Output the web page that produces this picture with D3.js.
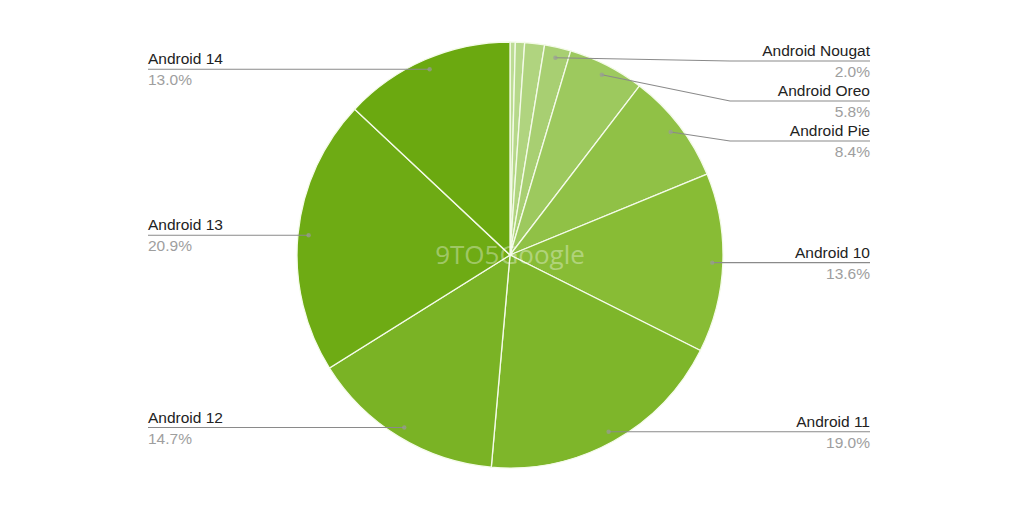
<!DOCTYPE html>
<html>
<head>
<meta charset="utf-8">
<script src="https://cdn.jsdelivr.net/npm/d3@7"></script>
<style>
  html, body { margin: 0; padding: 0; background: #fff; }
  svg { display: block; }
</style>
</head>
<body>
<div id="chart"></div>
<script>
// slices, clockwise from 12 o'clock
const versions = [
  "Android KitKat", "Android Lollipop", "Android Marshmallow",
  "Android Nougat", "Android Oreo", "Android Pie",
  "Android 10", "Android 11", "Android 12", "Android 13", "Android 14",
];
const shares = [0.4, 0.7, 1.5, 2.0, 5.8, 8.4, 13.6, 19.0, 14.7, 20.9, 13.0];
const shareLabels = ["0.4%", "0.7%", "1.5%", "2.0%", "5.8%", "8.4%", "13.6%", "19.0%", "14.7%", "20.9%", "13.0%"];
const sliceColors = [
  "#bcdc94", "#b6d88a", "#b0d47f", "#a8cf72", "#9dc95e", "#90c146",
  "#88bc35", "#7eb62a", "#7ab325", "#6eab14", "#6ba910",
];
// google charts hides labels for the tiny slices
const labelled = shares.map((v) => v >= 1.9);

const width = 1020, height = 509;
const cx = 510, cy = 255, R = 213;
const rightEdge = 870, leftEdge = 148;
const rightElbow = 730, leftElbow = 290;

const svg = d3.select("#chart").append("svg")
  .attr("width", width)
  .attr("height", height);

const data = versions.map((name, i) => ({ name, value: shares[i], label: shareLabels[i], color: sliceColors[i], show: labelled[i] }));

const pie = d3.pie().sort(null).value((d) => d.value).startAngle(0).endAngle(2 * Math.PI);
const arcs = pie(data);
const arc = d3.arc().innerRadius(0).outerRadius(R);

const g = svg.append("g").attr("transform", `translate(${cx},${cy})`);

g.selectAll("path.slice")
  .data(arcs)
  .enter().append("path")
  .attr("class", "slice")
  .attr("d", arc)
  .attr("fill", (d) => d.data.color)
  .attr("stroke", "#f4fbe9")
  .attr("stroke-width", 1.3);

// watermark
svg.append("text")
  .attr("x", cx)
  .attr("y", cy + 9)
  .attr("text-anchor", "middle")
  .attr("font-family", "'Open Sans', sans-serif")
  .attr("font-size", 26)
  .attr("fill", "#fff")
  .attr("fill-opacity", 0.36)
  .text("9TO5Google");

// anchor points just inside the rim, at mid angle
const anchorR = R * 0.95;
const labels = arcs.filter((d) => d.data.show).map((d) => {
  const a = (d.startAngle + d.endAngle) / 2;
  return {
    d,
    side: Math.sin(a) >= 0 ? "right" : "left",
    ax: cx + anchorR * Math.sin(a),
    ay: cy - anchorR * Math.cos(a),
  };
});

// simple vertical spreading per side
["right", "left"].forEach((side) => {
  const list = labels.filter((l) => l.side === side).sort((a, b) => a.ay - b.ay);
  let prev = -Infinity;
  list.forEach((l) => {
    l.ly = Math.max(l.ay, prev + 40, 61);
    prev = l.ly;
  });
});

const lab = svg.append("g");

lab.selectAll("polyline")
  .data(labels)
  .enter().append("polyline")
  .attr("points", (l) => {
    const elbow = l.side === "right" ? rightElbow : leftElbow;
    const end = l.side === "right" ? rightEdge : leftEdge;
    return [[l.ax, l.ay], [elbow, l.ly], [end, l.ly]].join(" ");
  })
  .attr("fill", "none")
  .attr("stroke", "#8a8a8a")
  .attr("stroke-width", 1.1);

lab.selectAll("circle")
  .data(labels)
  .enter().append("circle")
  .attr("cx", (l) => l.ax)
  .attr("cy", (l) => l.ay)
  .attr("r", 2.2)
  .attr("fill", "#9a9a9a")
  .attr("fill-opacity", 0.7);

lab.selectAll("text.name")
  .data(labels)
  .enter().append("text")
  .attr("class", "name")
  .attr("x", (l) => (l.side === "right" ? rightEdge : leftEdge))
  .attr("y", (l) => l.ly - 5)
  .attr("text-anchor", (l) => (l.side === "right" ? "end" : "start"))
  .attr("font-family", "'Liberation Sans', Arial, sans-serif")
  .attr("font-size", 15.5)
  .attr("fill", "#222")
  .text((l) => l.d.data.name);

lab.selectAll("text.pct")
  .data(labels)
  .enter().append("text")
  .attr("class", "pct")
  .attr("x", (l) => (l.side === "right" ? rightEdge : leftEdge))
  .attr("y", (l) => l.ly + 16)
  .attr("text-anchor", (l) => (l.side === "right" ? "end" : "start"))
  .attr("font-family", "'Liberation Sans', Arial, sans-serif")
  .attr("font-size", 15.5)
  .attr("fill", "#9e9e9e")
  .text((l) => l.d.data.label);
</script>
</body>
</html>
